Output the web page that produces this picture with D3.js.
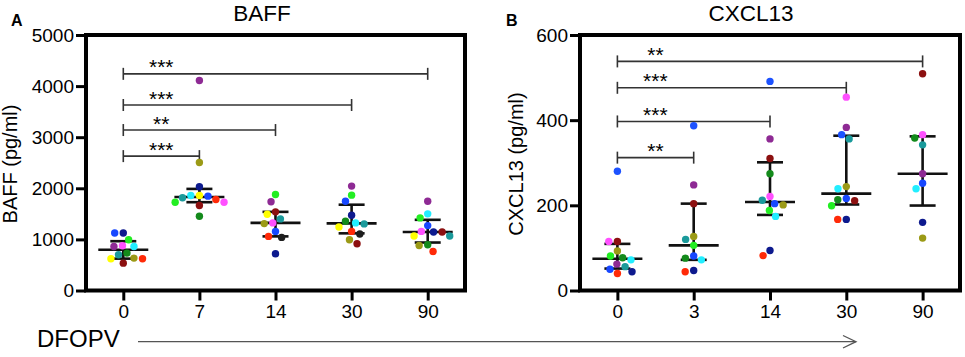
<!DOCTYPE html>
<html>
<head>
<meta charset="utf-8">
<script src="https://cdn.jsdelivr.net/npm/d3@7"></script>
<style>
  body { margin: 0; background: #fff; }
  text { font-family: "Liberation Sans", Arial, sans-serif; }
</style>
</head>
<body>
<script>
// patients (one colour each)
var patientIds = ["P1","P2","P3","P4","P5","P6","P7","P8","P9","P10","P11","P12","P13","P14"];

// BAFF panel
var baffDays = ["0", "7", "14", "30", "90"];
var baffPatients = [
  ["P1","P2","P3","P4","P5","P6","P7","P8","P9","P10","P11","P12"],
  ["P11","P1","P9","P7","P3","P6","P10","P2","P5","P12","P8","P4"],
  ["P3","P4","P12","P9","P7","P11","P6","P2","P10","P13","P1"],
  ["P4","P3","P2","P1","P5","P7","P8","P9","P10","P13","P11","P12"],
  ["P4","P5","P3","P2","P1","P12","P6","P9","P7","P8","P11","P10"]
];
var baffValues = [
  [1126, 1126, 994, 862, 862, 876, 699, 732, 620, 620, 634, 535],
  [2504, 2031, 1860, 1815, 1728, 1728, 1781, 1846, 1860, 1663, 1453, 4110],
  [1880, 1736, 1539, 1492, 1401, 1309, 1323, 1157, 1059, 1039, 718],
  [2043, 1866, 1748, 1472, 1323, 1303, 1354, 1244, 1157, 1106, 994, 915],
  [1748, 1500, 1421, 1270, 1146, 1146, 1157, 1067, 1067, 896, 882, 764]
];
var baffTicks = [0, 1000, 2000, 3000, 4000, 5000];
var baffBracketTo = ["90", "30", "14", "7"];
var baffBracketLevel = [4240, 3630, 3140, 2630];
var baffBracketStars = ["***", "***", "**", "***"];

// CXCL13 panel
var cxclDays = ["0", "3", "14", "30", "90"];
var cxclPatients = [
  ["P12","P6","P11","P8","P3","P5","P4","P7","P2","P10","P1","P14"],
  ["P14","P4","P12","P11","P7","P3","P8","P5","P2","P10","P1"],
  ["P14","P4","P12","P8","P6","P7","P11","P2","P3","P5","P10","P1"],
  ["P6","P4","P14","P7","P5","P11","P2","P12","P8","P3","P1","P10"],
  ["P12","P6","P8","P7","P4","P5","P2","P1","P11"]
];
var cxclValues = [
  [115, 115, 93, 77, 81, 72, 62, 56, 50, 40, 44, 280],
  [387, 248, 204, 127, 120, 106, 76, 72, 81, 44, 47],
  [491, 356, 310, 274, 221, 212, 201, 204, 188, 174, 82, 94],
  [454, 383, 366, 356, 239, 244, 216, 211, 213, 199, 167, 167],
  [509, 366, 358, 342, 274, 239, 252, 160, 123]
];
var cxclTicks = [0, 200, 400, 600];
var cxclBracketTo = ["90", "30", "14", "3"];
var cxclBracketLevel = [538, 476, 397, 312];
var cxclBracketStars = ["**", "***", "***", "**"];

var color = d3.scaleOrdinal(patientIds, [
  "#0d1a8e", "#1747ff", "#22ee22", "#8e2a94", "#22eeff", "#ff50ff", "#1a9a9b",
  "#138a1b", "#ffff00", "#ff2a08", "#9b9a16", "#8c1010", "#1e1e1e", "#1d52ff"
]);

var svg = d3.select("body").append("svg")
  .attr("width", 965)
  .attr("height", 357);

// quartiles the way Prism does it: position (n+1)p
function quart(arr, p) {
  var s = arr.slice().sort(d3.ascending);
  var n = s.length;
  var pos = (n + 1) * p;
  if (pos <= 1) return s[0];
  if (pos >= n) return s[n - 1];
  var lo = Math.floor(pos);
  return s[lo - 1] + (pos - lo) * (s[lo] - s[lo - 1]);
}

// spread points sideways so they don't overlap
function dodge(ys, D) {
  var order = d3.range(ys.length).sort(function(a, b) { return ys[a] - ys[b]; });
  var placed = [];
  var off = [];
  order.forEach(function(i) {
    var y = ys[i];
    var cands = [0];
    placed.forEach(function(p) {
      var dy = Math.abs(p.y - y);
      if (dy < D) {
        var dx = Math.sqrt(D * D - dy * dy);
        cands.push(p.x - dx, p.x + dx);
      }
    });
    cands.sort(function(a, b) { return Math.abs(a) - Math.abs(b) || a - b; });
    var x = cands.find(function(c) {
      return placed.every(function(p) {
        return (p.x - c) * (p.x - c) + (p.y - y) * (p.y - y) >= D * D - 0.01;
      });
    });
    off[i] = x;
    placed.push({x: x, y: y});
  });
  return off;
}

function drawPanel(cfg) {
  var g = svg.append("g");

  var x = d3.scalePoint()
    .domain(cfg.days)
    .range([cfg.left, cfg.right])
    .padding(0.49);
  var y = d3.scaleLinear()
    .domain([0, cfg.yMax])
    .range([cfg.bottom, cfg.top]);

  // y axis
  var ya = g.append("g")
    .attr("transform", "translate(" + cfg.left + ",0)")
    .call(d3.axisLeft(y).tickValues(cfg.ticks).tickFormat(d3.format("d"))
      .tickSize(10).tickPadding(2));
  ya.select(".domain").remove();
  ya.selectAll("line").attr("stroke", "#000").attr("stroke-width", 3);
  ya.selectAll("text").attr("font-size", 19).attr("fill", "#000")
    .style("font-family", "'Liberation Sans', Arial, sans-serif");

  // x axis
  var xa = g.append("g")
    .attr("transform", "translate(0," + cfg.bottom + ")")
    .call(d3.axisBottom(x).tickSize(10).tickPadding(4.5));
  xa.select(".domain").remove();
  xa.selectAll("line").attr("stroke", "#000").attr("stroke-width", 3);
  xa.selectAll("text").attr("font-size", 19).attr("fill", "#000")
    .style("font-family", "'Liberation Sans', Arial, sans-serif");

  // frame
  g.append("rect")
    .attr("x", cfg.left).attr("y", cfg.top)
    .attr("width", cfg.right - cfg.left).attr("height", cfg.bottom - cfg.top)
    .attr("fill", "none").attr("stroke", "#000").attr("stroke-width", 4);

  // titles
  g.append("text")
    .attr("x", cfg.titleX).attr("y", 20.5)
    .attr("text-anchor", "middle").attr("font-size", 22.5)
    .text(cfg.title);
  g.append("text")
    .attr("x", cfg.letterX).attr("y", 26)
    .attr("font-size", 16).attr("font-weight", "bold")
    .text(cfg.letter);
  g.append("text")
    .attr("transform", "translate(" + cfg.ylabX + ",164) rotate(-90)")
    .attr("text-anchor", "middle").attr("font-size", 20)
    .text(cfg.ylabel);

  // significance brackets
  var x0 = x(cfg.days[0]);
  cfg.bracketTo.forEach(function(t, i) {
    var by = y(cfg.bracketLevel[i]);
    var x1 = x(t);
    var b = g.append("g").attr("stroke", "#333").attr("stroke-width", 1.6);
    b.append("line").attr("x1", x0).attr("x2", x1).attr("y1", by).attr("y2", by);
    b.append("line").attr("x1", x0).attr("x2", x0).attr("y1", by - 6).attr("y2", by + 6);
    b.append("line").attr("x1", x1).attr("x2", x1).attr("y1", by - 6).attr("y2", by + 6);
    g.append("text")
      .attr("x", x0 + 38).attr("y", by + 0.5)
      .attr("text-anchor", "middle").attr("font-size", 21)
      .text(cfg.bracketStars[i]);
  });

  // median + interquartile range and points
  cfg.days.forEach(function(day, k) {
    var vals = cfg.values[k];
    var cx = x(day);
    var med = d3.median(vals), q1 = quart(vals, 0.25), q3 = quart(vals, 0.75);
    var eb = g.append("g").attr("stroke", "#111").attr("stroke-width", 2.6);
    eb.append("line").attr("x1", cx).attr("x2", cx).attr("y1", y(q1)).attr("y2", y(q3));
    eb.append("line").attr("x1", cx - 25).attr("x2", cx + 25).attr("y1", y(med)).attr("y2", y(med));
    eb.append("line").attr("x1", cx - 13).attr("x2", cx + 13).attr("y1", y(q1)).attr("y2", y(q1));
    eb.append("line").attr("x1", cx - 13).attr("x2", cx + 13).attr("y1", y(q3)).attr("y2", y(q3));

    var ys = vals.map(function(v) { return y(v); });
    var offs = dodge(ys, 8.6);
    g.selectAll(null)
      .data(vals)
      .enter()
      .append("circle")
      .attr("cx", function(d, i) { return cx + offs[i]; })
      .attr("cy", function(d) { return y(d); })
      .attr("r", 3.7)
      .attr("fill", function(d, i) { return color(cfg.patients[k][i]); });
  });
}

drawPanel({
  days: baffDays, values: baffValues, patients: baffPatients, ticks: baffTicks,
  bracketTo: baffBracketTo, bracketLevel: baffBracketLevel, bracketStars: baffBracketStars,
  yMax: 5000, left: 86, right: 465, top: 35, bottom: 290.5,
  title: "BAFF", titleX: 262, letter: "A", letterX: 11,
  ylabel: "BAFF (pg/ml)", ylabX: 17
});

drawPanel({
  days: cxclDays, values: cxclValues, patients: cxclPatients, ticks: cxclTicks,
  bracketTo: cxclBracketTo, bracketLevel: cxclBracketLevel, bracketStars: cxclBracketStars,
  yMax: 600, left: 580, right: 960, top: 35, bottom: 290.5,
  title: "CXCL13", titleX: 751, letter: "B", letterX: 506,
  ylabel: "CXCL13 (pg/ml)", ylabX: 523
});

// time arrow along the bottom
svg.append("text")
  .attr("x", 37).attr("y", 346.5)
  .attr("font-size", 24)
  .text("DFOPV");
var arr = svg.append("g").attr("stroke", "#555").attr("stroke-width", 1.3).attr("fill", "none");
arr.append("line").attr("x1", 138).attr("x2", 856).attr("y1", 341.7).attr("y2", 341.7);
arr.append("polyline").attr("points", "843,335.5 856,341.7 843,348");
</script>
</body>
</html>
